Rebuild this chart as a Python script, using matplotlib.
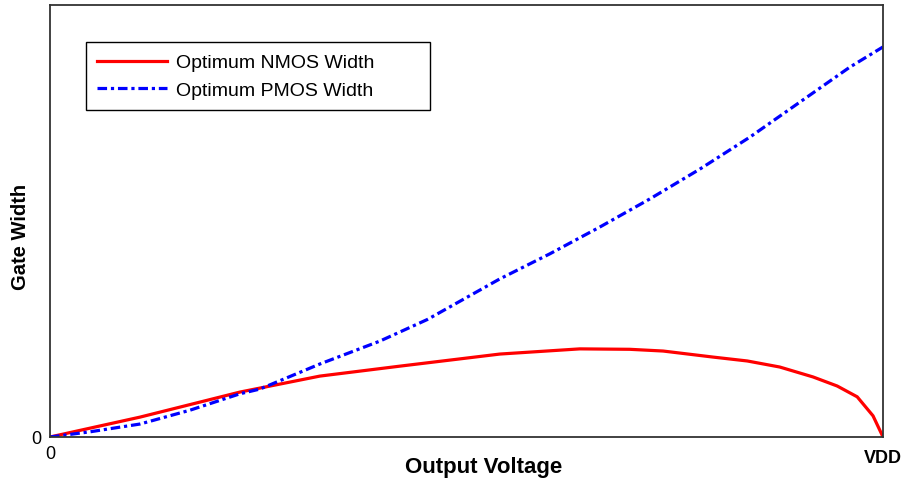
import matplotlib.pyplot as plt
from matplotlib.transforms import ScaledTranslation

plt.rcParams['font.family'] = ['Liberation Sans', 'DejaVu Sans']

# output voltage as a fraction of VDD, gate width in arbitrary units
v_nmos = [0.0, 0.108, 0.228, 0.324, 0.420, 0.540, 0.636, 0.696, 0.736,
          0.796, 0.837, 0.876, 0.916, 0.945, 0.969, 0.988, 1.0]
w_nmos = [0.0, 0.046, 0.104, 0.141, 0.164, 0.192, 0.204, 0.203, 0.199,
          0.185, 0.176, 0.162, 0.139, 0.118, 0.093, 0.049, 0.0]

v_pmos = [0.0, 0.048, 0.108, 0.168, 0.228, 0.252, 0.324, 0.396, 0.453,
          0.540, 0.600, 0.660, 0.720, 0.780, 0.840, 0.900, 0.960, 1.0]
w_pmos = [0.0, 0.012, 0.030, 0.062, 0.100, 0.111, 0.169, 0.222, 0.272,
          0.366, 0.424, 0.486, 0.551, 0.620, 0.694, 0.775, 0.856, 0.903]

fig = plt.figure(figsize=(9.04, 4.81), dpi=100)
ax = fig.add_axes([0.0553, 0.0894, 0.9215, 0.8981])

ax.plot(v_nmos, w_nmos, color='#ff0000', lw=2.3, label='Optimum NMOS Width')
ax.plot(v_pmos, w_pmos, color='#0000ff', lw=2.3, dashes=(3.0, 1.2, 1.0, 1.2),
        label='Optimum PMOS Width')

ax.set_xlim(0, 1)
ax.set_ylim(0, 1)
ax.set_xticks([0, 1])
ax.set_xticklabels(['0', 'VDD'])
ax.set_yticks([0])
ax.set_yticklabels(['0'])
ax.tick_params(length=0, labelsize=13, pad=6)

# VDD label sits a little lower and in bold
vdd = ax.get_xticklabels()[1]
vdd.set_fontweight('bold')
vdd.set_transform(vdd.get_transform() + ScaledTranslation(0, -3 / 72, fig.dpi_scale_trans))

for s in ax.spines.values():
    s.set_color('#333333')
    s.set_linewidth(1.3)

ax.set_xlabel('Output Voltage', fontsize=16, fontweight='bold')
ax.xaxis.set_label_coords(0.52, -0.045)
ax.set_ylabel('Gate Width', fontsize=14.5, fontweight='bold')
ax.yaxis.set_label_coords(-0.024, 0.465)

leg = ax.legend(loc='upper left', bbox_to_anchor=(0.043, 0.759, 0.413, 0.155),
                mode='expand', borderaxespad=0, fontsize=14, handlelength=3.6,
                fancybox=False, framealpha=1, borderpad=0.6, labelspacing=0.5,
                handletextpad=0.45)
leg.get_frame().set_edgecolor('black')
leg.get_frame().set_linewidth(1.0)

fig.savefig('out.png', dpi=100)
